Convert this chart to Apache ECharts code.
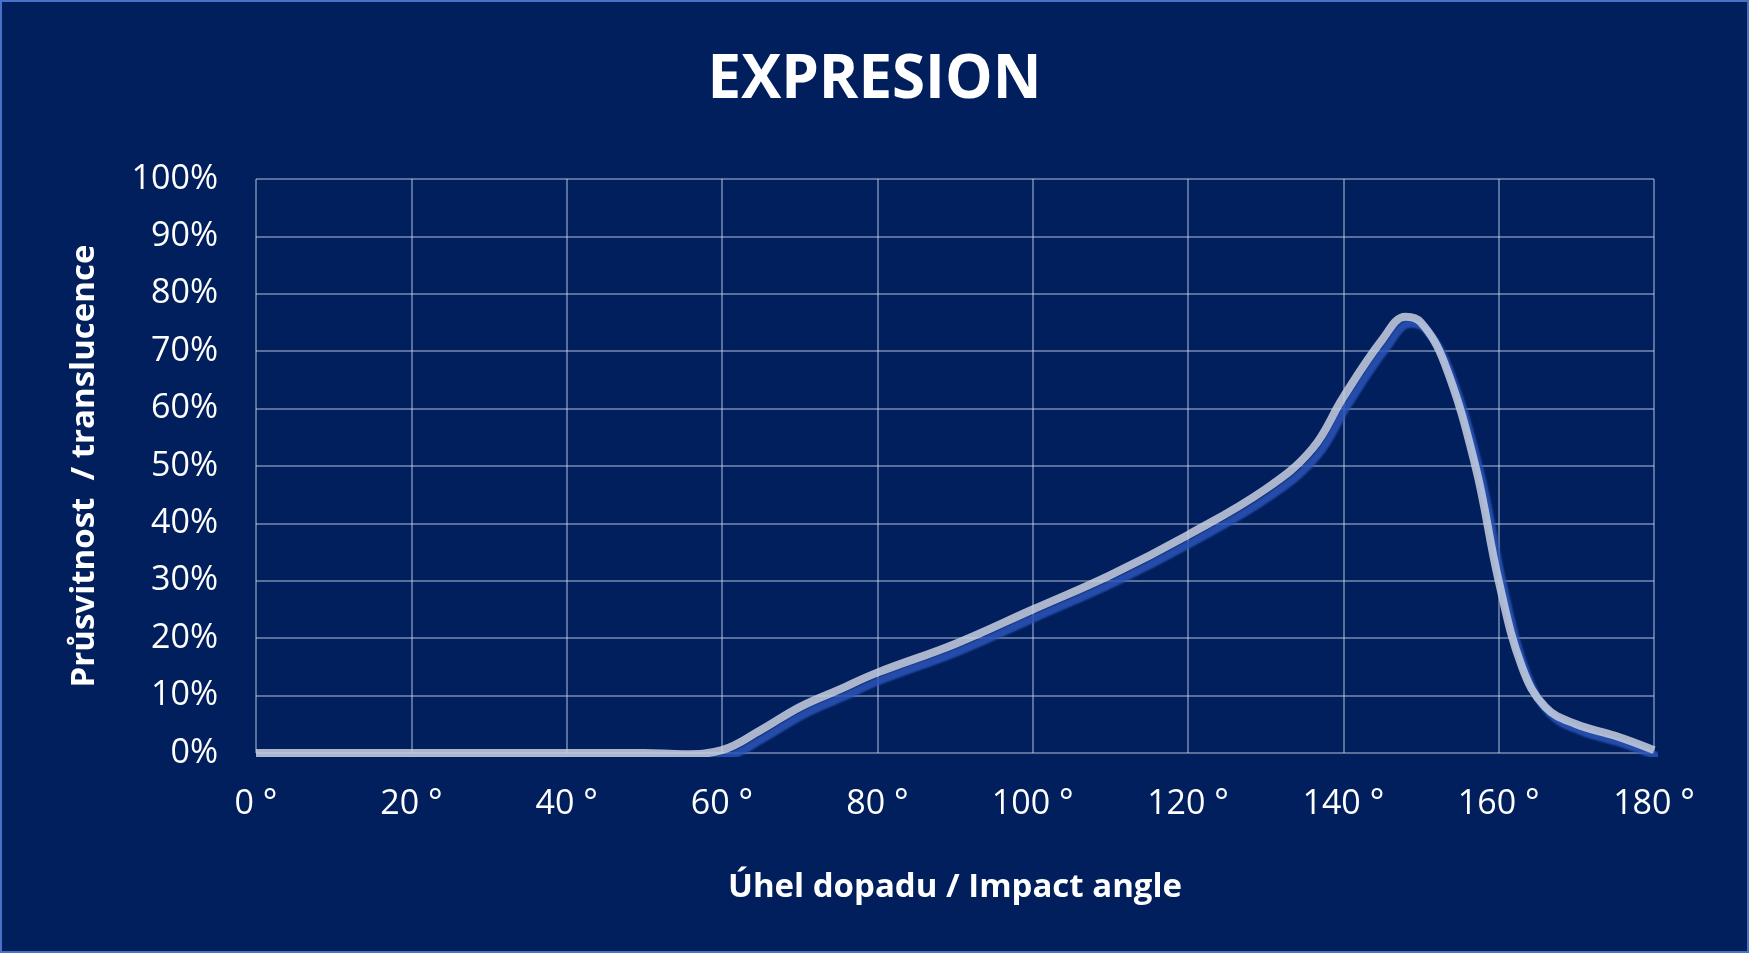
<!DOCTYPE html>
<html><head><meta charset="utf-8">
<script src="https://cdn.jsdelivr.net/npm/echarts@6/dist/echarts.min.js"></script>
<style>html,body{margin:0;padding:0;background:#011f5c}#c{width:1749px;height:953px;box-sizing:border-box;border:2px solid #4a72c4}</style>
</head><body><div id="c"></div>
<script>
const angles = [0,20,40,50,55,60,65,70,75,80,90,100,110,120,130,136,140,145,148,150,153,157,160,163,166,170,175,180];
const translucence = [0,0,0,0,-0.2,0.5,4,8,11,14,19,25,31,38,46,53,62,72,76,75,68,50,30,15,8,5,3,0.5];
const yTicks = [0,10,20,30,40,50,60,70,80,90,100];
const chart = echarts.init(document.getElementById('c'));
const font = 'Open Sans';
chart.setOption({
  backgroundColor:'#011f5c',
  title:{text:'EXPRESION',left:'center',top:44,textStyle:{color:'#fff',fontSize:60,fontWeight:'bold',fontFamily:font,letterSpacing:9}},
  grid:{left:254,right:93,top:177,bottom:198},
  xAxis:{type:'value',min:0,max:180,interval:20,
    name:'Úhel dopadu / Impact angle',nameLocation:'middle',nameGap:118,
    nameTextStyle:{color:'#fff',fontSize:33,fontWeight:'bold',fontFamily:font},
    axisLabel:{color:'#fff',fontSize:34,fontFamily:font,margin:34,formatter:v=>v+' °'},
    axisLine:{show:false},axisTick:{show:false},
    splitLine:{show:true,lineStyle:{color:'rgba(200,210,235,0.45)',width:2}}},
  yAxis:{type:'value',min:0,max:100,interval:10,
    name:'Průsvitnost  / translucence',nameLocation:'middle',nameGap:155,
    nameTextStyle:{color:'#fff',fontSize:33,fontWeight:'bold',fontFamily:font},
    axisLabel:{color:'#fff',fontSize:34,fontFamily:font,margin:38,formatter:v=>v+'%'},
    axisLine:{show:false},axisTick:{show:false},
    splitLine:{lineStyle:{color:'rgba(200,210,235,0.45)',width:2}}},
  series:[{type:'line',smooth:0.4,symbol:'none',
    data:angles.map((a,i)=>[a,translucence[i]]),
    lineStyle:{color:'rgba(200,208,225,0.85)',width:8,shadowColor:'#2c55b8',shadowOffsetX:5,shadowOffsetY:7,shadowBlur:2}}]
});
</script></body></html>
